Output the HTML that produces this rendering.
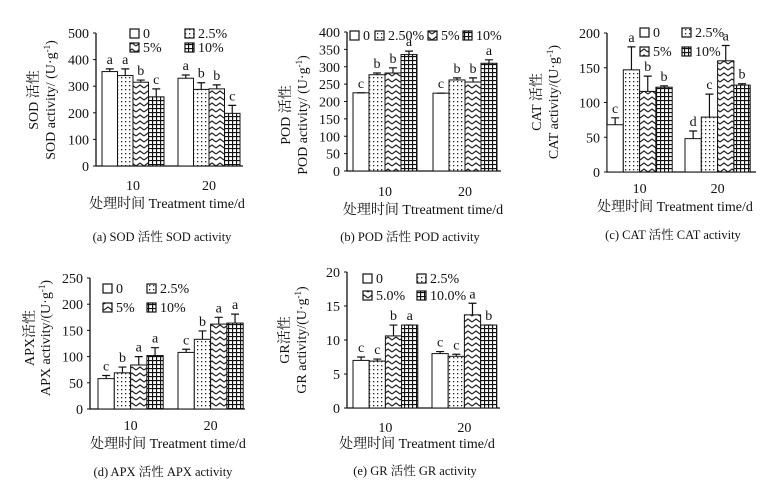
<!DOCTYPE html>
<html><head><meta charset="utf-8">
<style>
html,body{margin:0;padding:0;background:#fff;}
svg{display:block;}
text{font-family:"Liberation Serif","Noto Serif CJK SC","Noto Sans CJK SC",serif;fill:#111;}
</style></head>
<body>
<svg id="fig" width="765" height="481" viewBox="0 0 765 481">
<defs>
<pattern id="p-dots" width="4" height="4" patternUnits="userSpaceOnUse"><rect width="4" height="4" fill="#fff"/><rect x="1" y="1" width="1.3" height="1.3" fill="#222"/></pattern>
<pattern id="p-zig" width="8" height="6" patternUnits="userSpaceOnUse"><rect width="8" height="6" fill="#fff"/><path d="M0,4 L4,1 L8,4" fill="none" stroke="#222" stroke-width="1.2"/></pattern>
<pattern id="p-grid" width="4" height="4" patternUnits="userSpaceOnUse"><rect width="4" height="4" fill="#fff"/><path d="M0,0.5H4M0.5,0V4" stroke="#111" stroke-width="1.3"/></pattern>
</defs>
</svg>
<script>
// ---- data ----
const categories = ["10", "20"];
const sodMean = [[355,340,315,260],[330,288,290,198]];
const sodErr  = [[10,25,8,30],[12,25,15,30]];
const sodLetters = [["a","a","b","c"],["a","b","b","c"]];
const sodTicks = [0,100,200,300,400,500];
const podMean = [[225,277,282,335],[224,262,256,310]];
const podErr  = [[0,5,15,10],[0,6,12,10]];
const podLetters = [["c","b","b","a"],["c","b","b","a"]];
const podTicks = [0,50,100,150,200,250,300,350,400];
const catMean = [[68,147,116,122],[48,79,160,125]];
const catErr  = [[10,33,22,2],[11,33,22,2]];
const catLetters = [["c","a","b","b"],["d","c","a","b"]];
const catTicks = [0,50,100,150,200];
const apxMean = [[58,69,84,102],[108,133,162,164]];
const apxErr  = [[6,11,16,15],[6,16,13,17]];
const apxLetters = [["c","b","a","a"],["c","b","a","a"]];
const apxTicks = [0,50,100,150,200,250];
const grMean = [[7,6.9,10.6,12.2],[8,7.6,13.7,12.2]];
const grErr  = [[0.5,0.3,1.6,0],[0.3,0.3,1.7,0]];
const grLetters = [["c","c","b","a"],["c","c","a","b"]];
const grTicks = [0,5,10,15,20];

const fills = ["#fff","url(#p-dots)","url(#p-zig)","url(#p-grid)"];
const NS = "http://www.w3.org/2000/svg";
const svg = document.getElementById("fig");
function mk(tag, attrs, parent, txt){
  const e = document.createElementNS(NS, tag);
  for (const k in attrs) e.setAttribute(k, attrs[k]);
  if (txt !== undefined) e.textContent = txt;
  (parent||svg).appendChild(e);
  return e;
}

function panel(cfg, means, errs, letters, ticks){
  const g = mk("g", {});
  
  
  const max = ticks[ticks.length-1];
  const y = v => cfg.y0 - (v / max) * (cfg.y0 - cfg.yTop);
  // axes
  const ax = mk("path", {d:`M${cfg.ax},${cfg.yTop}V${cfg.y0}H${cfg.axEnd}`, stroke:"#111", "stroke-width":1.3, fill:"none"}, g);
  
  
  ticks.forEach(t => {
    mk("line", {x1:cfg.ax-3, x2:cfg.ax, y1:y(t), y2:y(t), stroke:"#111", "stroke-width":1}, g);
    const tl = mk("text", {x:cfg.ax-7, y:y(t)+5, "text-anchor":"end", "font-size":14}, g, String(t));
    
    
  });
  means.forEach((grp, gi) => {
    const gx = cfg.ax + cfg.off[gi];
    grp.forEach((v, si) => {
      const x = gx + si * cfg.bw;
      const b = mk("rect", {x:x, y:y(v), width:cfg.bw, height:cfg.y0 - y(v), fill:fills[si], stroke:"#111", "stroke-width":1}, g);
      
      
      const e = errs[gi][si];
      const cx = x + cfg.bw/2;
      if (e > 0) {
        mk("path", {d:`M${cx},${y(v)}V${y(v+e)}M${cx-4},${y(v+e)}H${cx+4}`, stroke:"#111", "stroke-width":1.2, fill:"none"}, g);
      } else {
        mk("line", {x1:cx-4, x2:cx+4, y1:y(v), y2:y(v), stroke:"#111", "stroke-width":1.2}, g);
      }
      const lt = mk("text", {x:cx, y:y(v+e)-5, "text-anchor":"middle", "font-size":14}, g, letters[gi][si]);
      
      
    });
    const xl = mk("text", {x:gx + 2*cfg.bw, y:cfg.tickY, "text-anchor":"middle", "font-size":14}, g, categories[gi]);
    
    
  });
  // legend
  cfg.leg.forEach((L, i) => {
    mk("rect", {x:L[0], y:L[1]-9, width:9, height:9, fill:fills[i], stroke:"#111", "stroke-width":1.2}, g);
    const t = mk("text", {x:L[0]+13, y:L[1], "font-size":14}, g, cfg.legText[i]);
    
    
  });
  const xt = mk("text", {x:cfg.titleX, y:cfg.titleY, "text-anchor":"middle", "font-size":14}, g, cfg.xTitle);
  
  
  const cp = mk("text", {x:cfg.capX, y:cfg.capY, "text-anchor":"middle", "font-size":12.5}, g, cfg.caption);
  
  
  cfg.yl.forEach((Y, i) => {
    const t = mk("text", {x:Y[0], y:cfg.ylY, "text-anchor":"middle", "font-size":14, transform:`rotate(-90 ${Y[0]} ${cfg.ylY})`}, g);
    
    
    t.textContent = Y[1];
    if (Y[2]) { mk("tspan", {"font-size":9, dy:-5}, t, Y[2]); mk("tspan", {dy:5}, t, ")"); }
  });
}

const lt4 = ["0","2.5%","5%","10%"];
panel({name:"panel-sod", ax:96, axEnd:243, yTop:33, y0:166, bw:15.5, off:[6,82], tickY:190, titleX:167, titleY:208, xTitle:"处理时间 Treatment time/d",
  capX:162, capY:241, caption:"(a) SOD 活性 SOD activity", leg:[[130,38],[185,38],[130,52],[185,52]], legText:lt4,
  ylY:100, yl:[[38,"SOD 活性"],[55,"SOD activity/ (U·g","-1"]]}, sodMean, sodErr, sodLetters, sodTicks);
panel({name:"panel-pod", ax:347, axEnd:501, yTop:32, y0:171, bw:16, off:[6,86], tickY:196, titleX:423, titleY:214, xTitle:"处理时间 Ttreatment time/d",
  capX:410, capY:241, caption:"(b) POD 活性 POD activity", leg:[[350,40],[375,40],[428,40],[463,40]], legText:["0","2.50%","5%","10%"],
  ylY:115, yl:[[290,"POD 活性"],[307,"POD activity/ (U·g","-1"]]}, podMean, podErr, podLetters, podTicks);
panel({name:"panel-cat", ax:607, axEnd:756, yTop:33, y0:172, bw:16.3, off:[0,78], tickY:193, titleX:675, titleY:211, xTitle:"处理时间 Treatment time/d",
  capX:673, capY:239, caption:"(c) CAT 活性 CAT activity", leg:[[640,37],[682,37],[640,56],[682,56]], legText:lt4,
  ylY:102, yl:[[541,"CAT 活性"],[558,"CAT activity/(U·g","-1"]]}, catMean, catErr, catLetters, catTicks);
panel({name:"panel-apx", ax:90, axEnd:245, yTop:278, y0:409, bw:16.3, off:[8,88], tickY:430, titleX:168, titleY:448, xTitle:"处理时间 Treatment time/d",
  capX:163, capY:476, caption:"(d) APX 活性 APX activity", leg:[[103,293],[147,293],[103,312],[147,312]], legText:lt4,
  ylY:338, yl:[[34,"APX活性"],[50,"APX activity/(U·g","-1"]]}, apxMean, apxErr, apxLetters, apxTicks);
panel({name:"panel-gr", ax:347, axEnd:500, yTop:272, y0:408, bw:16.2, off:[6,85], tickY:432, titleX:417, titleY:448, xTitle:"处理时间 Treatment time/d",
  capX:415, capY:475, caption:"(e) GR 活性 GR activity", leg:[[363,283],[417,283],[363,300],[417,300]], legText:["0","2.5%","5.0%","10.0%"],
  ylY:340, yl:[[289,"GR活性"],[306,"GR activity/(U·g","-1"]]}, grMean, grErr, grLetters, grTicks);
</script>
</body></html>
